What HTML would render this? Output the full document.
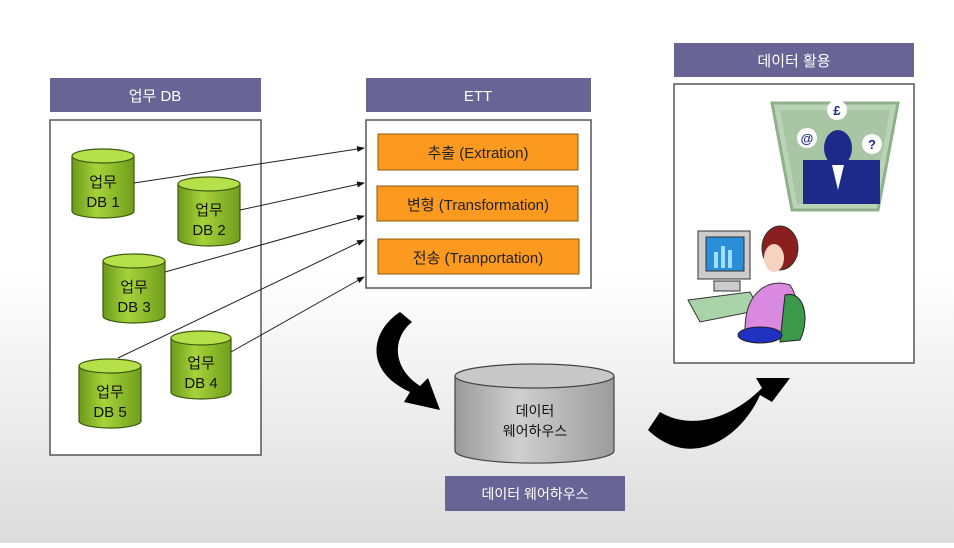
<!DOCTYPE html>
<html><head><meta charset="utf-8"><style>
html,body{margin:0;padding:0}
body{width:954px;height:543px;overflow:hidden;background:linear-gradient(#fff 0,#fff 270px,#dcdcdc 543px);font-family:"Liberation Sans","Noto Sans CJK KR",sans-serif}
</style></head><body>
<svg width="954" height="543" viewBox="0 0 954 543" xmlns="http://www.w3.org/2000/svg" font-family="Liberation Sans, Noto Sans CJK KR, sans-serif">
<defs>
<linearGradient id="g" x1="0" x2="1"><stop offset="0" stop-color="#6a9a1a"/><stop offset="0.4" stop-color="#a6d33a"/><stop offset="1" stop-color="#6f9e1c"/></linearGradient>
<linearGradient id="gg" x1="0" x2="1"><stop offset="0" stop-color="#9a9a9a"/><stop offset="0.4" stop-color="#cfcfcf"/><stop offset="1" stop-color="#9c9c9c"/></linearGradient>
<marker id="ah" markerWidth="8" markerHeight="8" refX="7" refY="4" orient="auto"><path d="M0,1 L8,4 L0,7 z" fill="#111"/></marker>
</defs>
<!-- headers -->
<rect x="50" y="78" width="211" height="34" fill="#686495"/>
<text x="155" y="101" fill="#fff" font-size="15" text-anchor="middle">업무 DB</text>
<rect x="366" y="78" width="225" height="34" fill="#686495"/>
<text x="478" y="101" fill="#fff" font-size="15" text-anchor="middle">ETT</text>
<rect x="674" y="43" width="240" height="34" fill="#686495"/>
<text x="794" y="66" fill="#fff" font-size="15" text-anchor="middle">데이터 활용</text>
<rect x="445" y="476" width="180" height="35" fill="#686495"/>
<text x="535" y="499" fill="#fff" font-size="14" text-anchor="middle">데이터 웨어하우스</text>
<!-- boxes -->
<rect x="50" y="120" width="211" height="335" fill="#fff" stroke="#555" stroke-width="1.5"/>
<rect x="366" y="120" width="225" height="168" fill="#fff" stroke="#555" stroke-width="1.5"/>
<rect x="674" y="84" width="240" height="279" fill="#fff" stroke="#555" stroke-width="1.5"/>
<!-- orange -->
<g fill="#fb9a1e" stroke="#8a5a10" stroke-width="1">
<rect x="378" y="134" width="200" height="36"/><rect x="377" y="186" width="201" height="35"/><rect x="378" y="239" width="201" height="35"/></g>
<g font-size="15" text-anchor="middle" fill="#222">
<text x="478" y="158">추출 (Extration)</text>
<text x="478" y="210">변형 (Transformation)</text>
<text x="478" y="263">전송 (Tranportation)</text></g>
<!-- cylinders -->
<g stroke="#3d5a10" stroke-width="1.2">
<g id="c1"><path d="M72,156 v55 a31,7 0 0 0 62,0 v-55" fill="url(#g)"/><ellipse cx="103" cy="156" rx="31" ry="7" fill="#b6e04a"/></g>
<path d="M178,184 v55 a31,7 0 0 0 62,0 v-55" fill="url(#g)"/><ellipse cx="209" cy="184" rx="31" ry="7" fill="#b6e04a"/>
<path d="M103,261 v55 a31,7 0 0 0 62,0 v-55" fill="url(#g)"/><ellipse cx="134" cy="261" rx="31" ry="7" fill="#b6e04a"/>
<path d="M171,338 v54 a30,7 0 0 0 60,0 v-54" fill="url(#g)"/><ellipse cx="201" cy="338" rx="30" ry="7" fill="#b6e04a"/>
<path d="M79,366 v55 a31,7 0 0 0 62,0 v-55" fill="url(#g)"/><ellipse cx="110" cy="366" rx="31" ry="7" fill="#b6e04a"/>
</g>
<g font-size="15" text-anchor="middle" fill="#111">
<text x="103" y="187">업무</text><text x="103" y="207">DB 1</text>
<text x="209" y="215">업무</text><text x="209" y="235">DB 2</text>
<text x="134" y="292">업무</text><text x="134" y="312">DB 3</text>
<text x="201" y="368">업무</text><text x="201" y="388">DB 4</text>
<text x="110" y="397">업무</text><text x="110" y="417">DB 5</text></g>
<!-- arrows -->
<g stroke="#222" stroke-width="1" marker-end="url(#ah)">
<line x1="134" y1="183" x2="364" y2="148"/>
<line x1="240" y1="210" x2="364" y2="183"/>
<line x1="165" y1="272" x2="364" y2="216"/>
<line x1="118" y1="358" x2="364" y2="240"/>
<line x1="231" y1="352" x2="364" y2="277"/></g>
<!-- DW cylinder -->
<path d="M455,376 v75 a79,12 0 0 0 159,0 v-75" fill="url(#gg)" stroke="#444" stroke-width="1.2"/>
<ellipse cx="534.5" cy="376" rx="79.5" ry="12" fill="#c8c8c8" stroke="#444" stroke-width="1.2"/>
<text x="535" y="416" font-size="14" text-anchor="middle" fill="#111">데이터</text>
<text x="535" y="436" font-size="14" text-anchor="middle" fill="#111">웨어하우스</text>
<!-- big curved arrows -->
<path d="M400,312 C372,330 362,370 410,392 L404,402 L440,410 L428,378 L420,386 C392,368 392,338 412,322 Z" fill="#000"/>
<path d="M648,430 C690,470 740,440 760,395 L772,402 L790,378 L756,378 L762,388 C730,420 690,430 660,412 Z" fill="#000"/>
<!-- businessman -->
<polygon points="772,103 898,103 878,210 792,210" fill="#b9d3b5" stroke="#8fb08a" stroke-width="3"/>
<polygon points="780,110 890,110 873,204 797,204" fill="#a8c6a4"/>
<rect x="803" y="160" width="77" height="44" fill="#1e2a8a"/>
<ellipse cx="838" cy="148" rx="14" ry="18" fill="#1e2a8a"/>
<polygon points="832,165 844,165 838,190" fill="#fff"/>
<circle cx="837" cy="110" r="10" fill="#fff"/><text x="837" y="115" font-size="13" font-weight="bold" text-anchor="middle" fill="#1e2a8a">£</text>
<circle cx="807" cy="138" r="10" fill="#fff"/><text x="807" y="143" font-size="13" font-weight="bold" text-anchor="middle" fill="#1e2a8a">@</text>
<circle cx="872" cy="144" r="10" fill="#fff"/><text x="872" y="149" font-size="13" font-weight="bold" text-anchor="middle" fill="#1e2a8a">?</text>
<!-- woman at computer -->
<polygon points="688,300 750,292 760,310 700,322" fill="#a9d3a8" stroke="#333"/>
<rect x="698" y="231" width="52" height="48" fill="#ccc" stroke="#333"/>
<rect x="706" y="237" width="38" height="34" fill="#2a8fd8" stroke="#333"/>
<g fill="#9fe0ff"><rect x="714" y="252" width="4" height="16"/><rect x="721" y="246" width="4" height="22"/><rect x="728" y="250" width="4" height="18"/></g>
<rect x="714" y="281" width="26" height="10" fill="#ccc" stroke="#333"/>
<ellipse cx="780" cy="248" rx="18" ry="22" fill="#8b1e1e" stroke="#333"/>
<ellipse cx="774" cy="258" rx="10" ry="14" fill="#f6d2c0"/>
<path d="M745,330 C745,290 770,278 790,285 C800,300 800,325 790,340 Z" fill="#d98ae0" stroke="#333"/>
<path d="M785,295 C805,290 810,320 800,340 L780,342 Z" fill="#3a9a4a" stroke="#222"/>
<ellipse cx="760" cy="335" rx="22" ry="8" fill="#2030c0" stroke="#222"/>
</svg>
</body></html>
